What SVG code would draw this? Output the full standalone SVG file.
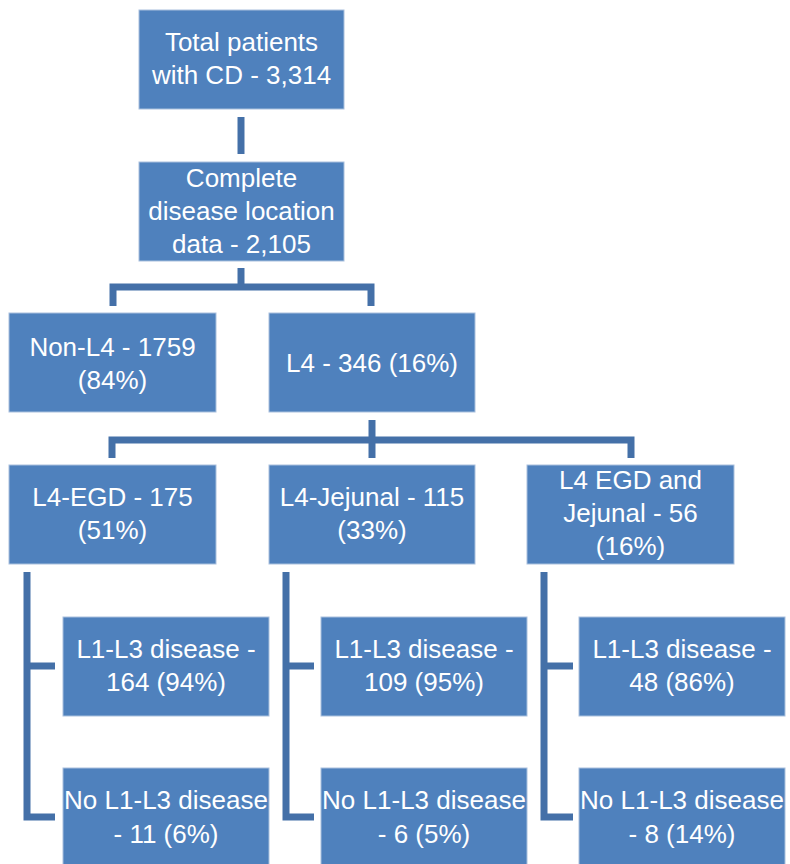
<svg xmlns="http://www.w3.org/2000/svg" width="790" height="864" viewBox="0 0 790 864">
<style>
.box{fill:#4F81BD;stroke:#A9C0DD;stroke-width:1}
.t{font-family:"Liberation Sans",Arial,sans-serif;font-size:26px;fill:#FFFFFF;text-anchor:middle}
.c{fill:none;stroke:#4470A8;stroke-width:7;stroke-linecap:butt;stroke-linejoin:miter}
</style>
<rect width="790" height="864" fill="#FFFFFF"/>
<g id="connectors">
<path class="c" d="M241,117 V154"/>
<path class="c" d="M241,268 V287"/>
<path class="c" d="M113,306 V287 H371 V306"/>
<path class="c" d="M372,420 V458"/>
<path class="c" d="M112,458 V440 H631 V458"/>
<path class="c" d="M27,572 V817 H55 M27,666 H55"/>
<path class="c" d="M286,572 V817 H314 M286,666 H314"/>
<path class="c" d="M544,572 V817 H573 M544,666 H573"/>
</g>
<g id="n-total">
<rect class="box" x="139" y="10" width="205" height="99"/>
<text class="t" x="241.5" y="51">Total patients</text>
<text class="t" x="241.5" y="84">with CD - 3,314</text>
</g>
<g id="n-complete">
<rect class="box" x="139" y="162" width="205" height="99"/>
<text class="t" x="241.5" y="187">Complete</text>
<text class="t" x="241.5" y="220">disease location</text>
<text class="t" x="241.5" y="253">data - 2,105</text>
</g>
<g id="n-nonl4">
<rect class="box" x="9" y="313" width="207" height="99"/>
<text class="t" x="112.5" y="356">Non-L4 - 1759</text>
<text class="t" x="112.5" y="389">(84%)</text>
</g>
<g id="n-l4">
<rect class="box" x="269" y="313" width="206" height="99"/>
<text class="t" x="372" y="372">L4 - 346 (16%)</text>
</g>
<g id="n-egd">
<rect class="box" x="9" y="465" width="207" height="99"/>
<text class="t" x="112.5" y="506">L4-EGD - 175</text>
<text class="t" x="112.5" y="539">(51%)</text>
</g>
<g id="n-jejunal">
<rect class="box" x="269" y="465" width="206" height="99"/>
<text class="t" x="372" y="506">L4-Jejunal - 115</text>
<text class="t" x="372" y="539">(33%)</text>
</g>
<g id="n-both">
<rect class="box" x="527" y="465" width="207" height="99"/>
<text class="t" x="630.5" y="489">L4 EGD and</text>
<text class="t" x="630.5" y="522">Jejunal - 56</text>
<text class="t" x="630.5" y="555">(16%)</text>
</g>
<g id="n-egd-l13">
<rect class="box" x="63" y="617" width="206" height="99"/>
<text class="t" x="166" y="658">L1-L3 disease -</text>
<text class="t" x="166" y="691">164 (94%)</text>
</g>
<g id="n-egd-no">
<rect class="box" x="63" y="768" width="206" height="99"/>
<text class="t" x="166" y="809">No L1-L3 disease</text>
<text class="t" x="166" y="843">- 11 (6%)</text>
</g>
<g id="n-jej-l13">
<rect class="box" x="321" y="617" width="206" height="99"/>
<text class="t" x="424" y="658">L1-L3 disease -</text>
<text class="t" x="424" y="691">109 (95%)</text>
</g>
<g id="n-jej-no">
<rect class="box" x="321" y="768" width="206" height="99"/>
<text class="t" x="424" y="809">No L1-L3 disease</text>
<text class="t" x="424" y="843">- 6 (5%)</text>
</g>
<g id="n-both-l13">
<rect class="box" x="579" y="617" width="206" height="99"/>
<text class="t" x="682" y="658">L1-L3 disease -</text>
<text class="t" x="682" y="691">48 (86%)</text>
</g>
<g id="n-both-no">
<rect class="box" x="579" y="768" width="206" height="99"/>
<text class="t" x="682" y="809">No L1-L3 disease</text>
<text class="t" x="682" y="843">- 8 (14%)</text>
</g>
</svg>
